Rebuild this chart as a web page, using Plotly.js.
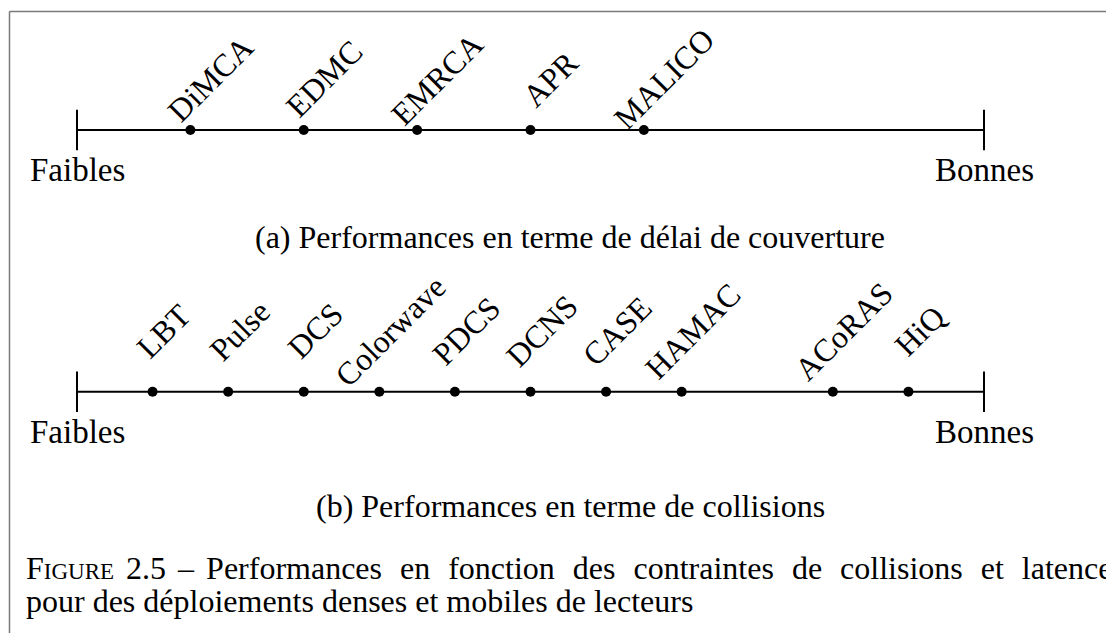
<!DOCTYPE html>
<html>
<head>
<meta charset="utf-8">
<script src="https://cdn.plot.ly/plotly-3.0.1.min.js"></script>
<style>html,body{margin:0;padding:0;background:#fff;}#chart{width:1106px;height:633px;}</style>
</head>
<body>
<div id="chart"></div>
<script>
// ---- data ----
const topLabels = ["DiMCA", "EDMC", "EMRCA", "APR", "MALICO"];
const topValues = [1, 2, 3, 4, 5];
const topScale = [0, 8];
const bottomLabels = ["LBT", "Pulse", "DCS", "Colorwave", "PDCS", "DCNS", "CASE", "HAMAC", "ACoRAS", "HiQ"];
const bottomValues = [1, 2, 3, 4, 5, 6, 7, 8, 10, 11];
const bottomScale = [0, 12];
const endLabels = ["Faibles", "Bonnes"];
const subCaptions = ["(a) Performances en terme de délai de couverture", "(b) Performances en terme de collisions"];
const captionLines = ["<span style='word-spacing:4px'>F<span style='font-size:23px'>IGURE</span> 2.5 – </span><span style='word-spacing:10px'>Performances en fonction des contraintes de collisions et latence</span>",
                      "pour des déploiements denses et mobiles de lecteurs"];

// ---- layout constants ----
const W = 1106, H = 633;
const FONT = "Liberation Serif, Times New Roman, serif";
const TOP_ROW = 1, BOTTOM_ROW = 0;

function row(values, scale, labels, rowY, xa, labShift) {
  const traces = [
    { x: scale, y: scale.map(() => rowY), xaxis: xa, yaxis: 'y', type: 'scatter', mode: 'lines+markers',
      line: { color: '#000', width: 2 }, marker: { symbol: 'line-ns-open', size: 29, line: { color: '#000', width: 2 } },
      hoverinfo: 'skip', showlegend: false, cliponaxis: false },
    { x: values, y: values.map(() => rowY), xaxis: xa, yaxis: 'y', type: 'scatter', mode: 'markers',
      marker: { color: '#000', size: 10 }, text: labels, hoverinfo: 'text', showlegend: false, cliponaxis: false }
  ];
  const xref = xa === 'x' ? 'x' : 'x2';
  const ann = labels.map((t, i) => ({
    text: t, x: values[i], y: rowY, xref: xref, yref: 'y', showarrow: false, textangle: -45,
    xanchor: 'center', yanchor: 'middle', xshift: labShift[0], yshift: labShift[1],
    font: { family: FONT, size: 32, color: '#000' }
  }));
  endLabels.forEach((t, i) => ann.push({
    text: t, x: scale[i], y: rowY, xref: xref, yref: 'y', showarrow: false,
    xanchor: 'center', yanchor: 'middle', yshift: -40,
    font: { family: FONT, size: 33, color: '#000' }
  }));
  return { traces, ann };
}

const r1 = row(topValues, topScale, topLabels, TOP_ROW, 'x2', [20, 51]);
const r2 = row(bottomValues, bottomScale, bottomLabels, BOTTOM_ROW, 'x', [11, 61]);

const annotations = r1.ann.concat(r2.ann);
annotations.push({ text: subCaptions[0], xref: 'paper', yref: 'paper', x: 570 / W, y: 1 - 237 / H, showarrow: false,
  xanchor: 'center', yanchor: 'middle', font: { family: FONT, size: 32, color: '#000' } });
annotations.push({ text: subCaptions[1], xref: 'paper', yref: 'paper', x: 570 / W, y: 1 - 506 / H, showarrow: false,
  xanchor: 'center', yanchor: 'middle', font: { family: FONT, size: 32, color: '#000' } });
annotations.push({ text: captionLines[0], xref: 'paper', yref: 'paper', x: 24 / W, y: 1 - 568 / H, showarrow: false,
  xanchor: 'left', yanchor: 'middle', align: 'left', font: { family: FONT, size: 32, color: '#000' } });
annotations.push({ text: captionLines[1], xref: 'paper', yref: 'paper', x: 24 / W, y: 1 - 601 / H, showarrow: false,
  xanchor: 'left', yanchor: 'middle', align: 'left', font: { family: FONT, size: 32, color: '#000' } });

const dom = [77 / W, 984 / W];
const layout = {
  width: W, height: H, margin: { l: 0, r: 0, t: 0, b: 0 },
  paper_bgcolor: '#fff', plot_bgcolor: '#fff', showlegend: false,
  xaxis: { domain: dom, range: bottomScale, visible: false, fixedrange: true },
  xaxis2: { domain: dom, range: topScale, overlaying: 'x', visible: false, fixedrange: true },
  yaxis: { domain: [0, 1], range: [-0.922, 1.4968], visible: false, fixedrange: true },
  annotations: annotations,
  shapes: [
    { type: 'line', xref: 'paper', yref: 'paper', x0: 9.5 / W, x1: 1.05, y0: 1 - 11.5 / H, y1: 1 - 11.5 / H, line: { color: '#7a7a7a', width: 1.5 } },
    { type: 'line', xref: 'paper', yref: 'paper', x0: 9.5 / W, x1: 9.5 / W, y0: 1 - 11.5 / H, y1: -0.05, line: { color: '#7a7a7a', width: 1.5 } }
  ]
};

Plotly.newPlot('chart', r1.traces.concat(r2.traces), layout, { displayModeBar: false, staticPlot: true });
</script>
</body>
</html>
